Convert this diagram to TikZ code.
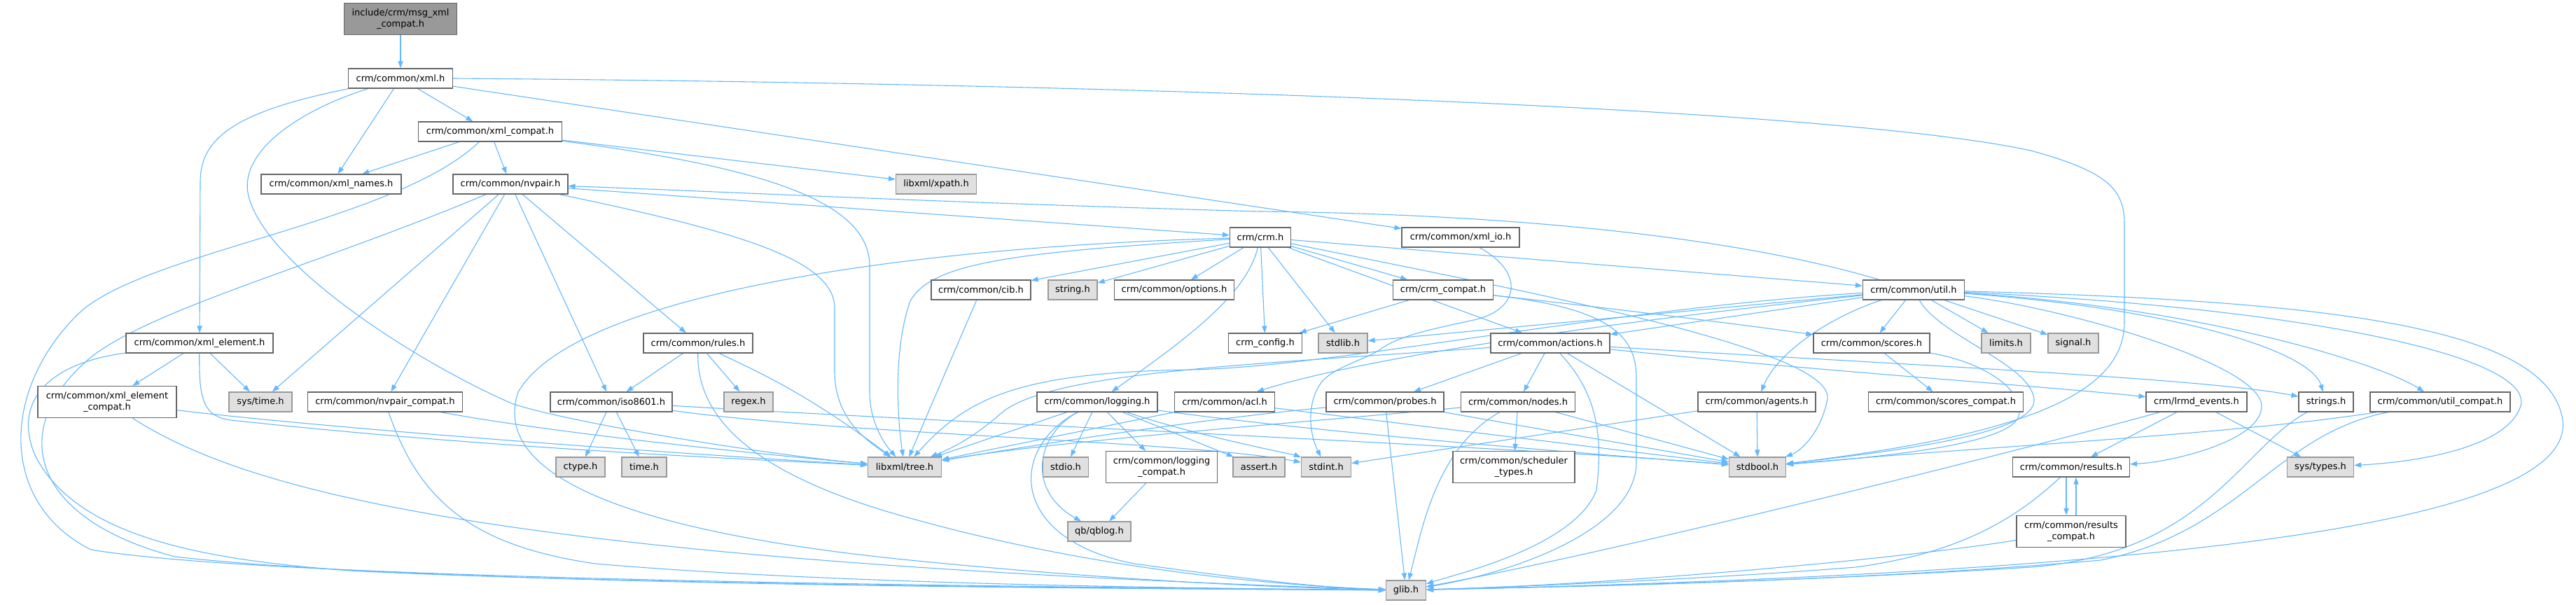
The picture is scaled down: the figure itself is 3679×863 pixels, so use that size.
\documentclass[tikz,border=0pt]{standalone}
\usepackage{fontspec}
\setmainfont{DejaVu Sans}
\usetikzlibrary{arrows.meta}
\pgfdeclarelayer{bg}
\pgfsetlayers{bg,main}
\definecolor{edgec}{HTML}{63B8FF}
\definecolor{bordw}{HTML}{666666}
\definecolor{bordg}{HTML}{999999}
\definecolor{fillg}{HTML}{E0E0E0}
\definecolor{rootf}{HTML}{999999}
\newcommand{\fs}{\fontsize{6.5pt}{8.3pt}\selectfont}
\tikzset{
  nd/.style={draw=bordw, fill=white, line width=0.6pt, minimum height=14pt, inner sep=0pt, font=\fs, text=black, align=center},
  gr/.style={nd, draw=bordg, fill=fillg},
  rt/.style={nd, fill=rootf, minimum height=22.5pt},
  tw/.style={minimum height=22.5pt},
  w/.style={minimum width=#1*0.5pt},
  e/.style={draw=edgec, line width=0.55pt, -{Triangle[length=5pt,width=3.6pt]}}
}
\begin{document}
\begin{tikzpicture}[x=0.5pt,y=-0.5pt]
\useasboundingbox (0,0) rectangle (3679,863);
% nodes
\node[rt,w=161] (root) at (572,27) {include/crm/msg\_xml\\\_compat.h};
\node[nd,w=149] (xml) at (572,112) {crm/common/xml.h};
\node[nd,w=205] (xmlcompat) at (700,188) {crm/common/xml\_compat.h};
\node[nd,w=200] (xmlnames) at (473,263) {crm/common/xml\_names.h};
\node[nd,w=164] (nvpair) at (729,263) {crm/common/nvpair.h};
\node[gr,w=115] (xpath) at (1337,263) {libxml/xpath.h};
\node[nd,w=168] (xmlio) at (2086,339) {crm/common/xml\_io.h};
\node[nd,w=87] (crm) at (1800,339) {crm/crm.h};
\node[nd,w=142] (cib) at (1401,414) {crm/common/cib.h};
\node[gr,w=70] (string) at (1532,414) {string.h};
\node[nd,w=171] (options) at (1677,414) {crm/common/options.h};
\node[nd,w=143] (crmcompat) at (2061,414) {crm/crm\_compat.h};
\node[nd,w=145] (util) at (2733,414) {crm/common/util.h};
\node[nd,w=210] (xmlelem) at (285,490) {crm/common/xml\_element.h};
\node[nd,w=156] (rules) at (997,490) {crm/common/rules.h};
\node[nd,w=105] (crmconfig) at (1807,490) {crm\_config.h};
\node[gr,w=70] (stdlib) at (1918,490) {stdlib.h};
\node[nd,w=170] (actions) at (2214,490) {crm/common/actions.h};
\node[nd,w=166] (scores) at (2673,490) {crm/common/scores.h};
\node[gr,w=70] (limits) at (2865,490) {limits.h};
\node[gr,w=72] (signal) at (2961,490) {signal.h};
\node[nd,tw,w=198] (xmlelemcompat) at (153,574) {crm/common/xml\_element\\\_compat.h};
\node[gr,w=90] (systime) at (372,574) {sys/time.h};
\node[nd,w=221] (nvpaircompat) at (550,574) {crm/common/nvpair\_compat.h};
\node[nd,w=174] (iso) at (873,574) {crm/common/iso8601.h};
\node[gr,w=70] (regex) at (1069,574) {regex.h};
\node[nd,w=172] (logging) at (1567,574) {crm/common/logging.h};
\node[nd,w=143] (acl) at (1749,574) {crm/common/acl.h};
\node[nd,w=168] (probes) at (1978,574) {crm/common/probes.h};
\node[nd,w=163] (nodes) at (2168,574) {crm/common/nodes.h};
\node[nd,w=168] (agents) at (2509,574) {crm/common/agents.h};
\node[nd,w=221] (scorescompat) at (2779,574) {crm/common/scores\_compat.h};
\node[nd,w=144] (lrmd) at (3137,574) {crm/lrmd\_events.h};
\node[nd,w=78] (strings) at (3322,574) {strings.h};
\node[nd,w=200] (utilcompat) at (3485,574) {crm/common/util\_compat.h};
\node[gr,w=70] (ctype) at (829,667) {ctype.h};
\node[gr,w=64] (time) at (920,667) {time.h};
\node[gr,w=105] (tree) at (1292,667) {libxml/tree.h};
\node[gr,w=65] (stdio) at (1522,667) {stdio.h};
\node[nd,tw,w=159] (logcompat) at (1659,667) {crm/common/logging\\\_compat.h};
\node[gr,w=74] (assert) at (1798,667) {assert.h};
\node[gr,w=71] (stdint) at (1894,667) {stdint.h};
\node[nd,tw,w=174] (sched) at (2162,667) {crm/common/scheduler\\\_types.h};
\node[gr,w=81] (stdbool) at (2510,667) {stdbool.h};
\node[nd,w=167] (results) at (2958,667) {crm/common/results.h};
\node[gr,w=95] (systypes) at (3314,667) {sys/types.h};
\node[gr,w=90] (qblog) at (1570,759) {qb/qblog.h};
\node[nd,tw,w=156] (rescompat) at (2958,759) {crm/common/results\\\_compat.h};
\node[gr,w=57] (glib) at (2008,843) {glib.h};
% edges
\begin{pgfonlayer}{bg}
\draw[e] (root) -- (xml);
\draw[e] (xml) -- (xmlnames);
\draw[e] (xml) -- (xmlcompat);
\draw[e] (xml) .. controls (330,160) and (286,200) .. (286,260) -- (xmlelem);
\draw[e] (xml) .. controls (420,160) and (340,220) .. (355,280) .. controls (380,380) and (600,520) .. (733,577) .. controls (820,605) and (1100,650) .. (tree);
\draw[e] (xml) -- (xmlio);
\draw[e] (xml.east) .. controls (1500,118) and (2600,150) .. (2900,215) .. controls (3010,245) and (3034,270) .. (3034,320) -- (3034,460) .. controls (3034,560) and (2900,620) .. (stdbool);
\draw[e] (xmlcompat) -- (xmlnames);
\draw[e] (xmlcompat) -- (nvpair);
\draw[e] (xmlcompat) -- (xpath);
\draw[e] (xmlcompat) .. controls (1100,240) and (1242,290) .. (1242,380) -- (1242,560) .. controls (1242,600) and (1260,630) .. (tree);
\draw[e] (xmlcompat) .. controls (560,320) and (200,360) .. (110,450) .. controls (0,560) and (0,720) .. (130,785) .. controls (400,830) and (1500,838) .. (glib);
\draw[e] (util) .. controls (2450,330) and (2100,305) .. (1800,302) .. controls (1300,288) and (1000,272) .. (nvpair);
\draw[e] (nvpair) -- (crm);
\draw[e] (nvpair) -- (systime);
\draw[e] (nvpair) -- (nvpaircompat);
\draw[e] (nvpair) -- (iso);
\draw[e] (nvpair) -- (rules);
\draw[e] (nvpair) .. controls (450,380) and (220,440) .. (130,510) .. controls (10,610) and (40,740) .. (250,795) .. controls (600,835) and (1500,840) .. (glib);
\draw[e] (nvpair) .. controls (1050,330) and (1192,370) .. (1192,440) -- (1192,530) .. controls (1192,600) and (1240,630) .. (tree);
\draw[e] (xmlelem) -- (xmlelemcompat);
\draw[e] (xmlelem) -- (systime);
\draw[e] (xmlelem) .. controls (284,570) and (290,595) .. (330,600) .. controls (700,640) and (1050,655) .. (tree);
\draw[e] (xmlelem) .. controls (60,520) and (20,580) .. (50,650) .. controls (110,770) and (300,800) .. (500,815) .. controls (900,835) and (1600,840) .. (glib);
\draw[e] (xmlelemcompat) .. controls (500,615) and (1000,650) .. (tree);
\draw[e] (xmlelemcompat) .. controls (350,700) and (700,800) .. (glib);
\draw[e] (nvpaircompat) .. controls (800,620) and (1100,650) .. (tree);
\draw[e] (nvpaircompat) .. controls (600,720) and (680,780) .. (850,805) .. controls (1200,835) and (1700,840) .. (glib);
\draw[e] (iso) -- (ctype);
\draw[e] (iso) -- (time);
\draw[e] (iso) .. controls (1200,620) and (1700,630) .. (stdint);
\draw[e] (iso) .. controls (1300,600) and (2200,640) .. (stdbool);
\draw[e] (rules) -- (iso);
\draw[e] (rules) -- (regex);
\draw[e] (rules) .. controls (1080,530) and (1150,560) .. (tree);
\draw[e] (rules) .. controls (995,600) and (1080,680) .. (1300,740) .. controls (1550,810) and (1800,835) .. (glib);
\draw[e] (crm) .. controls (1300,352) and (820,420) .. (740,560) .. controls (700,680) and (900,760) .. (1300,800) .. controls (1600,830) and (1850,840) .. (glib);
\draw[e] (crm) .. controls (1450,360) and (1330,375) .. (1300,430) .. controls (1275,500) and (1282,600) .. (tree);
\draw[e] (crm) -- (cib);
\draw[e] (cib) -- (tree);
\draw[e] (crm) -- (string);
\draw[e] (crm) -- (options);
\draw[e] (crm) .. controls (1780,420) and (1700,480) .. (logging);
\draw[e] (crm) -- (crmconfig);
\draw[e] (crm) -- (stdlib);
\draw[e] (crm) -- (actions);
\draw[e] (crm) -- (crmcompat);
\draw[e] (crm) -- (util);
\draw[e] (crm) .. controls (2200,420) and (2620,500) .. (2610,570) .. controls (2600,620) and (2570,645) .. (stdbool);
\draw[e] (crmcompat) -- (crmconfig);
\draw[e] (crmcompat) .. controls (2300,440) and (2500,465) .. (scores);
\draw[e] (crmcompat) .. controls (2300,440) and (2337,480) .. (2337,540) -- (2337,660) .. controls (2337,760) and (2150,820) .. (glib);
\draw[e] (xmlio) .. controls (2180,390) and (2170,445) .. (2100,458) .. controls (2045,470) and (1995,480) .. (1970,500) .. controls (1945,515) and (1905,525) .. (1888,545) .. controls (1865,575) and (1870,620) .. (stdint);
\draw[e] (util) .. controls (2300,460) and (1950,510) .. (acl);
\draw[e] (util) .. controls (2300,440) and (1900,525) .. (1700,528) .. controls (1450,532) and (1380,570) .. (tree);
\draw[e] (util) -- (stdlib);
\draw[e] (util) -- (actions);
\draw[e] (util) .. controls (2620,450) and (2540,500) .. (agents);
\draw[e] (util) -- (scores);
\draw[e] (util) -- (limits);
\draw[e] (util) -- (signal);
\draw[e] (util) .. controls (2770,480) and (2900,520) .. (2905,570) .. controls (2910,620) and (2700,645) .. (stdbool);
\draw[e] (util) .. controls (2950,440) and (3230,520) .. (3230,580) .. controls (3230,630) and (3100,660) .. (results);
\draw[e] (util) .. controls (3100,440) and (3300,500) .. (strings);
\draw[e] (util) .. controls (3150,440) and (3400,520) .. (utilcompat);
\draw[e] (util) .. controls (3300,440) and (3620,510) .. (3600,580) .. controls (3580,640) and (3450,660) .. (systypes);
\draw[e] (util) .. controls (3350,430) and (3640,470) .. (3660,600) .. controls (3680,760) and (3000,820) .. (glib);
\draw[e] (actions) -- (probes);
\draw[e] (actions) -- (nodes);
\draw[e] (actions) .. controls (2280,560) and (2290,620) .. (2280,700) .. controls (2250,780) and (2080,820) .. (glib);
\draw[e] (actions) -- (stdbool);
\draw[e] (actions) .. controls (1800,520) and (1500,530) .. (1430,590) .. controls (1390,625) and (1360,640) .. (tree);
\draw[e] (actions) .. controls (2700,520) and (3150,540) .. (strings);
\draw[e] (actions) .. controls (2600,530) and (2900,550) .. (lrmd);
\draw[e] (nodes) -- (sched);
\draw[e] (nodes) -- (stdbool);
\draw[e] (nodes) .. controls (2050,640) and (2030,760) .. (glib);
\draw[e] (nodes) .. controls (1900,600) and (1500,630) .. (tree);
\draw[e] (probes) -- (glib);
\draw[e] (probes) -- (stdbool);
\draw[e] (probes) .. controls (1700,600) and (1450,640) .. (tree);
\draw[e] (agents) -- (stdbool);
\draw[e] (agents) -- (stdint);
\draw[e] (scores) -- (scorescompat);
\draw[e] (scores) .. controls (2850,520) and (2900,570) .. (2880,600) .. controls (2850,640) and (2650,655) .. (stdbool);
\draw[e] (logging) -- (tree);
\draw[e] (logging) -- (stdio);
\draw[e] (logging) -- (logcompat);
\draw[e] (logging) -- (assert);
\draw[e] (logging) .. controls (1700,620) and (1850,650) .. (stdint);
\draw[e] (logging) .. controls (1900,620) and (2300,650) .. (stdbool);
\draw[e] (logging) .. controls (1480,620) and (1465,700) .. (qblog);
\draw[e] (logging) .. controls (1440,640) and (1440,770) .. (1620,805) .. controls (1800,830) and (1900,840) .. (glib);
\draw[e] (logcompat) -- (qblog);
\draw[e] (acl) -- (tree);
\draw[e] (acl) -- (stdbool);
\draw[e] (lrmd) -- (results);
\draw[e] (lrmd) -- (systypes);
\draw[e] (lrmd) .. controls (2900,640) and (2300,790) .. (glib);
\draw[e] (strings) .. controls (3200,640) and (3150,790) .. (2900,810) .. controls (2500,835) and (2100,840) .. (glib);
\draw[e] (utilcompat) .. controls (3200,620) and (2800,640) .. (stdbool);
\draw[e] (utilcompat) .. controls (3250,620) and (3200,760) .. (3000,800) .. controls (2600,835) and (2100,840) .. (glib);
\draw[e] ([xshift=-3.5pt]results.south) -- ([xshift=-3.5pt]rescompat.north);
\draw[e] ([xshift=3.5pt]rescompat.north) -- ([xshift=3.5pt]results.south);
\draw[e] (results) .. controls (2880,740) and (2800,790) .. (2650,810) .. controls (2400,830) and (2100,840) .. (glib);
\draw[e] (rescompat) .. controls (2700,800) and (2300,835) .. (glib);
\end{pgfonlayer}
\end{tikzpicture}
\end{document}
